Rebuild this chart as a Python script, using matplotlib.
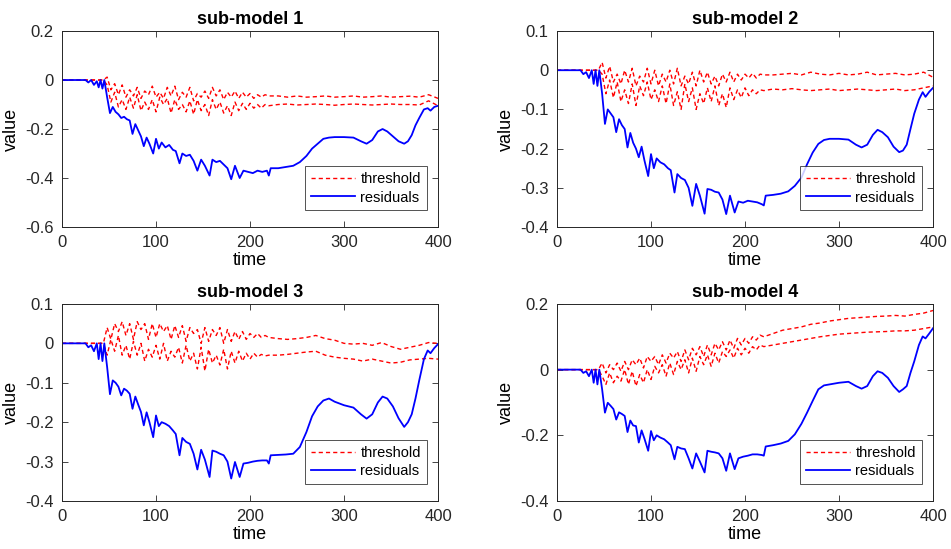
import matplotlib
matplotlib.use("Agg")
from matplotlib import pyplot as plt

plt.rcParams['font.family'] = ['Liberation Sans', 'DejaVu Sans']
plt.rcParams['axes.unicode_minus'] = False

# time grid for the thresholds: flat start, oscillating part, calm tail
t_thr = [0] + list(range(44, 221, 4)) + list(range(230, 401, 10))

# time grid for the residuals
t_res = [0, 25, 28, 31, 34, 37, 39, 41, 43, 45, 48, 51, 54, 57, 60, 63, 66, 69,
         72, 75, 78, 81, 84, 87, 90, 93, 97, 100, 103, 106, 110, 114, 118, 121,
         125, 128, 132, 136, 140, 144, 148, 152, 157, 160, 164, 168, 172, 176,
         180, 184, 189, 193, 198, 203, 208, 213, 218, 220, 222, 230, 238, 246,
         253, 260, 266, 272, 278, 284, 290, 300, 310, 318, 324, 330, 336, 341,
         346, 352, 358, 364, 368, 372, 376, 380, 385, 389, 392, 396, 400]

# ---- sub-model 1
thr1_hi = [0, 0.0, 0.012, -0.04, -0.015, -0.06, -0.02, -0.07, -0.04, -0.065, -0.03,
           -0.075, -0.045, -0.06, -0.025, -0.07, -0.05, -0.075, -0.03, -0.065, -0.025,
           -0.08, -0.05, -0.07, -0.03, -0.085, -0.055, -0.07, -0.045, -0.075, -0.03,
           -0.065, -0.04, -0.08, -0.05, -0.07, -0.045, -0.075, -0.05, -0.07, -0.055,
           -0.075, -0.06, -0.07, -0.06, -0.065,
           -0.065, -0.07, -0.065, -0.07, -0.068, -0.065, -0.07, -0.068, -0.065, -0.07,
           -0.068, -0.065, -0.07, -0.068, -0.066, -0.07, -0.06, -0.075]
thr1_lo = [0, 0.0, -0.02, -0.09, -0.05, -0.11, -0.08, -0.12, -0.07, -0.115, -0.06,
           -0.125, -0.09, -0.12, -0.08, -0.13, -0.07, -0.1, -0.075, -0.135, -0.08,
           -0.12, -0.1, -0.13, -0.085, -0.14, -0.08, -0.125, -0.1, -0.145, -0.08,
           -0.12, -0.09, -0.135, -0.105, -0.145, -0.09, -0.125, -0.095, -0.12, -0.095,
           -0.115, -0.1, -0.115, -0.1, -0.105,
           -0.1, -0.098, -0.102, -0.1, -0.098, -0.1, -0.103, -0.1, -0.098, -0.1,
           -0.102, -0.1, -0.098, -0.1, -0.1, -0.102, -0.085, -0.105]
res1 = [0, 0, -0.01, 0.0, -0.02, -0.005, -0.03, 0.0, -0.035, 0.0, -0.07, -0.135,
        -0.11, -0.13, -0.14, -0.155, -0.15, -0.16, -0.165, -0.22, -0.18, -0.205,
        -0.23, -0.27, -0.235, -0.26, -0.3, -0.24, -0.28, -0.255, -0.275, -0.265,
        -0.285, -0.29, -0.34, -0.3, -0.31, -0.305, -0.33, -0.37, -0.325, -0.35,
        -0.39, -0.325, -0.335, -0.33, -0.345, -0.36, -0.405, -0.35, -0.4, -0.37,
        -0.375, -0.38, -0.37, -0.375, -0.37, -0.39, -0.36, -0.36, -0.355, -0.35,
        -0.335, -0.31, -0.28, -0.26, -0.24, -0.235, -0.233, -0.233, -0.235, -0.25,
        -0.26, -0.245, -0.21, -0.2, -0.21, -0.23, -0.25, -0.26, -0.25, -0.225,
        -0.185, -0.155, -0.12, -0.115, -0.125, -0.11, -0.105]

# ---- sub-model 2
thr2_hi = [0, 0.0, 0.02, -0.02, 0.01, -0.03, -0.01, -0.035, 0.0, -0.03, 0.005, -0.04,
           -0.015, -0.03, 0.005, -0.035, 0.0, -0.04, -0.01, -0.03, 0.0, -0.035, 0.005,
           -0.04, -0.015, -0.035, -0.005, -0.04, 0.0, -0.03, -0.005, -0.035, -0.015,
           -0.04, -0.01, -0.03, -0.005, -0.03, -0.01, -0.025, -0.01, -0.02, -0.008,
           -0.02, -0.01, -0.012,
           -0.012, -0.01, -0.008, -0.012, -0.005, -0.01, -0.012, -0.008, -0.012, -0.01,
           -0.005, -0.012, -0.01, -0.008, -0.012, -0.01, -0.005, -0.018]
thr2_lo = [0, 0.0, -0.01, -0.06, -0.025, -0.07, -0.03, -0.08, -0.05, -0.085, -0.035,
           -0.09, -0.04, -0.065, -0.03, -0.075, -0.05, -0.08, -0.04, -0.085, -0.035,
           -0.09, -0.055, -0.1, -0.035, -0.08, -0.045, -0.1, -0.06, -0.085, -0.045,
           -0.08, -0.04, -0.09, -0.06, -0.095, -0.045, -0.075, -0.05, -0.07, -0.045,
           -0.065, -0.05, -0.06, -0.05, -0.052,
           -0.048, -0.05, -0.047, -0.05, -0.052, -0.05, -0.048, -0.052, -0.05, -0.048,
           -0.05, -0.052, -0.05, -0.048, -0.052, -0.05, -0.045, -0.04]
res2 = [0, 0, -0.01, -0.005, -0.02, 0.0, -0.035, 0.0, -0.04, 0.0, -0.06, -0.137,
        -0.1, -0.11, -0.12, -0.158, -0.125, -0.14, -0.15, -0.197, -0.16, -0.185,
        -0.2, -0.222, -0.195, -0.23, -0.27, -0.214, -0.25, -0.225, -0.235, -0.24,
        -0.25, -0.255, -0.312, -0.265, -0.275, -0.28, -0.3, -0.346, -0.29, -0.32,
        -0.366, -0.303, -0.305, -0.31, -0.312, -0.33, -0.367, -0.32, -0.363, -0.335,
        -0.338, -0.333, -0.335, -0.337, -0.342, -0.345, -0.32, -0.318, -0.315,
        -0.309, -0.295, -0.274, -0.24, -0.21, -0.188, -0.178, -0.175, -0.175,
        -0.177, -0.19, -0.197, -0.19, -0.165, -0.152, -0.158, -0.171, -0.195,
        -0.209, -0.205, -0.19, -0.15, -0.111, -0.075, -0.056, -0.068, -0.055, -0.045]

# ---- sub-model 3
thr3_hi = [0, 0.0, 0.04, 0.01, 0.05, 0.03, 0.055, 0.02, 0.05, 0.01, 0.055, 0.035,
           0.05, 0.01, 0.05, 0.015, 0.05, 0.03, 0.045, 0.01, 0.045, 0.015, 0.045,
           0.005, 0.04, 0.025, 0.035, 0.0, 0.04, 0.005, 0.035, 0.02, 0.04, 0.0, 0.035,
           0.005, 0.03, 0.01, 0.03, 0.01, 0.025, 0.015, 0.025, 0.015, 0.02, 0.015,
           0.012, 0.01, 0.012, 0.015, 0.02, 0.012, 0.008, 0.0, -0.002, 0.0, -0.005,
           0.002, -0.008, -0.015, -0.01, -0.005, 0.002, 0.0]
thr3_lo = [0, 0.0, -0.03, 0.01, -0.02, 0.02, -0.03, -0.005, -0.04, 0.005, -0.03, 0.0,
           -0.045, -0.015, -0.035, -0.005, -0.04, 0.0, -0.045, -0.02, -0.035, -0.01,
           -0.05, -0.005, -0.045, -0.025, -0.065, -0.01, -0.07, -0.015, -0.05, -0.03,
           -0.055, -0.015, -0.065, -0.02, -0.05, -0.02, -0.045, -0.025, -0.04, -0.025,
           -0.035, -0.028, -0.032, -0.03,
           -0.03, -0.028, -0.025, -0.022, -0.02, -0.03, -0.035, -0.038, -0.04, -0.045,
           -0.04, -0.045, -0.05, -0.048, -0.042, -0.04, -0.038, -0.04]
res3 = [0, 0, -0.01, -0.005, -0.02, 0.0, -0.04, 0.0, -0.045, 0.0, -0.06, -0.129,
        -0.094, -0.1, -0.11, -0.132, -0.115, -0.12, -0.128, -0.166, -0.135, -0.155,
        -0.174, -0.208, -0.175, -0.2, -0.238, -0.183, -0.21, -0.2, -0.204, -0.21,
        -0.221, -0.23, -0.284, -0.24, -0.25, -0.255, -0.28, -0.32, -0.27, -0.295,
        -0.339, -0.272, -0.275, -0.28, -0.284, -0.3, -0.343, -0.301, -0.339, -0.305,
        -0.303, -0.3, -0.298, -0.297, -0.297, -0.305, -0.284, -0.283, -0.282, -0.28,
        -0.263, -0.225, -0.185, -0.16, -0.145, -0.14, -0.148, -0.157, -0.163, -0.18,
        -0.191, -0.18, -0.15, -0.135, -0.14, -0.16, -0.19, -0.212, -0.2, -0.18,
        -0.14, -0.094, -0.04, -0.018, -0.025, -0.012, -0.002]

# ---- sub-model 4
thr4_hi = [0, 0.0, 0.02, -0.01, 0.015, 0.0, 0.02, -0.005, 0.025, 0.0, 0.03, 0.015,
           0.035, 0.005, 0.04, 0.025, 0.04, 0.015, 0.045, 0.02, 0.05, 0.035, 0.055,
           0.025, 0.06, 0.03, 0.065, 0.045, 0.07, 0.04, 0.075, 0.045, 0.08, 0.06,
           0.085, 0.06, 0.09, 0.065, 0.095, 0.075, 0.095, 0.08, 0.1, 0.09, 0.105, 0.1,
           0.11, 0.12, 0.125, 0.13, 0.138, 0.142, 0.148, 0.152, 0.156, 0.158, 0.16,
           0.162, 0.163, 0.165, 0.163, 0.168, 0.172, 0.18]
thr4_lo = [0, 0.0, -0.02, -0.045, -0.01, -0.04, -0.02, -0.035, 0.0, -0.045, -0.005,
           -0.05, -0.015, -0.04, 0.0, -0.03, 0.01, -0.01, 0.015, -0.02, 0.02, -0.015,
           0.025, 0.0, 0.03, -0.01, 0.035, -0.005, 0.04, 0.015, 0.045, 0.01, 0.05,
           0.02, 0.055, 0.04, 0.06, 0.035, 0.065, 0.045, 0.065, 0.05, 0.07, 0.06,
           0.075, 0.07,
           0.075, 0.08, 0.085, 0.09, 0.095, 0.1, 0.104, 0.108, 0.11, 0.112, 0.114,
           0.115, 0.116, 0.118, 0.118, 0.12, 0.125, 0.13]
res4 = [0, 0, -0.01, -0.005, -0.02, 0.0, -0.04, 0.0, -0.045, 0.0, -0.06, -0.131,
        -0.101, -0.11, -0.12, -0.152, -0.13, -0.135, -0.141, -0.19, -0.155, -0.17,
        -0.172, -0.222, -0.185, -0.21, -0.247, -0.187, -0.215, -0.2, -0.207, -0.212,
        -0.222, -0.23, -0.273, -0.235, -0.24, -0.242, -0.27, -0.301, -0.255, -0.28,
        -0.313, -0.247, -0.25, -0.252, -0.255, -0.27, -0.308, -0.255, -0.303, -0.27,
        -0.265, -0.262, -0.258, -0.258, -0.26, -0.262, -0.234, -0.23, -0.225,
        -0.217, -0.197, -0.165, -0.131, -0.095, -0.06, -0.048, -0.045, -0.04,
        -0.037, -0.05, -0.058, -0.05, -0.02, -0.005, -0.01, -0.025, -0.05, -0.068,
        -0.06, -0.05, -0.01, 0.025, 0.075, 0.101, 0.095, 0.11, 0.126]

titles = ['sub-model 1', 'sub-model 2', 'sub-model 3', 'sub-model 4']
ylims = [(-0.6, 0.2), (-0.4, 0.1), (-0.4, 0.1), (-0.4, 0.2)]
yticks = [[-0.6, -0.4, -0.2, 0, 0.2],
          [-0.4, -0.3, -0.2, -0.1, 0, 0.1],
          [-0.4, -0.3, -0.2, -0.1, 0, 0.1],
          [-0.4, -0.2, 0, 0.2]]
thr_hi = [thr1_hi, thr2_hi, thr3_hi, thr4_hi]
thr_lo = [thr1_lo, thr2_lo, thr3_lo, thr4_lo]
res = [res1, res2, res3, res4]

# axes boxes in figure fractions (left, bottom, width, height)
boxes = [(0.0652, 0.5865, 0.3954, 0.357),
         (0.5857, 0.5865, 0.3954, 0.357),
         (0.0652, 0.0874, 0.3954, 0.359),
         (0.5857, 0.0874, 0.3954, 0.359)]

fig = plt.figure(figsize=(9.51, 5.49), dpi=100)
for i in range(4):
	ax = fig.add_axes(boxes[i])
	ax.plot(t_thr, thr_hi[i], color='#ff0000', ls=(0, (3, 2.2)), lw=1.0, label='threshold')
	ax.plot(t_thr, thr_lo[i], color='#ff0000', ls=(0, (3, 2.2)), lw=1.0)
	ax.plot(t_res, res[i], color='#0000ff', lw=1.3, label='residuals')
	ax.set_xlim(0, 400)
	ax.set_ylim(*ylims[i])
	ax.set_xticks([0, 100, 200, 300, 400])
	ax.set_yticks(yticks[i])
	ax.set_yticklabels(['%g' % v for v in yticks[i]])
	ax.tick_params(direction='in', top=True, right=True, labelsize=12, length=4,
	               width=0.6, colors='#262626', pad=6)
	for s in ax.spines.values():
		s.set_linewidth(0.7)
		s.set_color('#262626')
	ax.set_title(titles[i], fontsize=13, fontweight='bold', pad=5)
	ax.set_xlabel('time', fontsize=13, labelpad=1)
	ax.set_ylabel('value', fontsize=13, labelpad=4)
	leg = ax.legend(loc='lower right', bbox_to_anchor=(0.97, 0.085), fontsize=10.5,
	                fancybox=False, borderaxespad=0.0, handlelength=3.0,
	                handletextpad=0.4, borderpad=0.4, labelspacing=0.3)
	leg.get_frame().set_edgecolor('#262626')
	leg.get_frame().set_linewidth(0.7)

fig.savefig('out.png', dpi=100)
